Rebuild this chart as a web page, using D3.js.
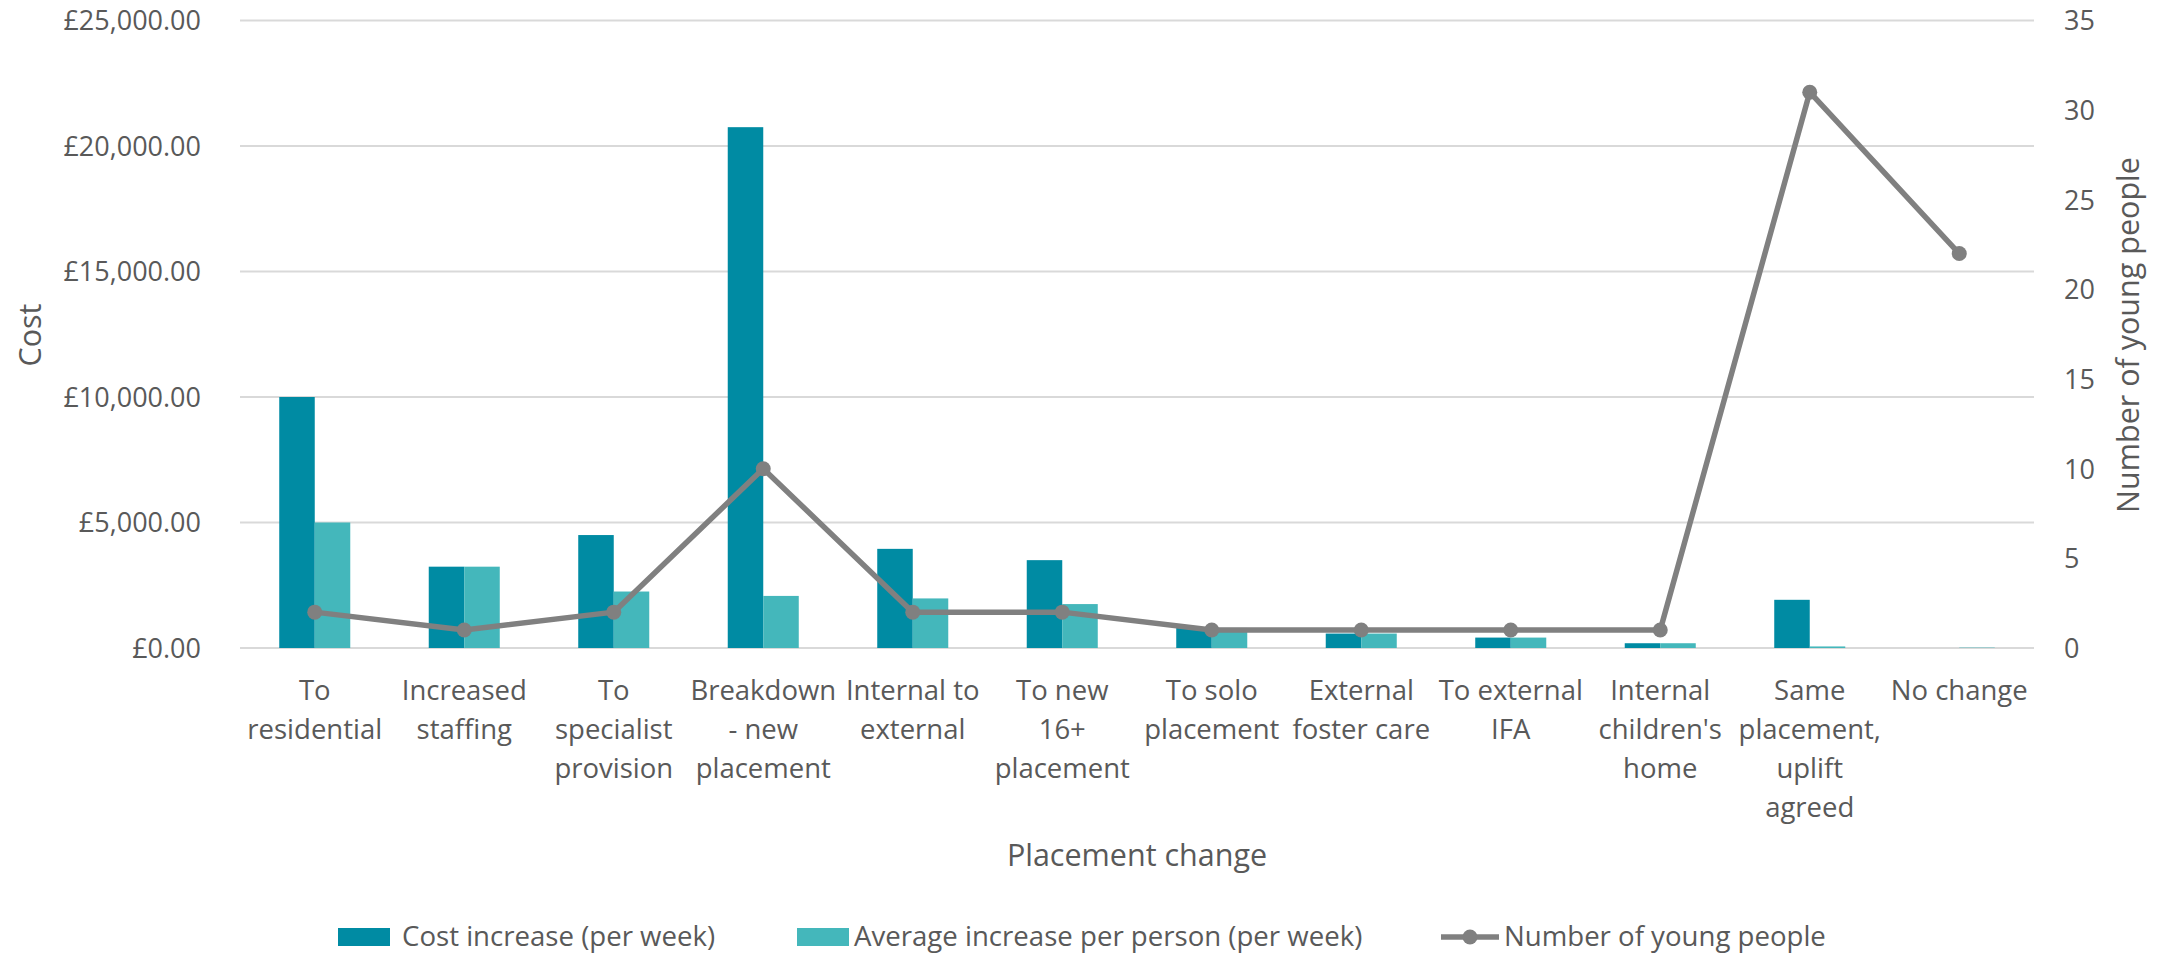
<!DOCTYPE html>
<html>
<head>
  <meta charset="utf-8">
  <script src="https://d3js.org/d3.v7.min.js"></script>
  <style>
  body { margin: 0; background: #fff; }
  text { font-family: "Open Sans", sans-serif; fill: #595959; }
  .grid line { stroke: #d9d9d9; stroke-width: 2px; }
  .axis path, .axis line { display: none; }
  .tick-label { font-size: 27px; }
  .cat-label { font-size: 27.5px; }
  .title { font-size: 30.5px; }
  .legend text { font-size: 27.6px; }
  </style>
</head>
<body>
<script>
// placement change categories ("\n" = line break in axis label)
var categories = [
  "To\nresidential",
  "Increased\nstaffing",
  "To\nspecialist\nprovision",
  "Breakdown\n- new\nplacement",
  "Internal to\nexternal",
  "To new\n16+\nplacement",
  "To solo\nplacement",
  "External\nfoster care",
  "To external\nIFA",
  "Internal\nchildren's\nhome",
  "Same\nplacement,\nuplift\nagreed",
  "No change"
];
var costIncrease = [10000, 3240, 4500, 20750, 3950, 3500, 800, 575, 415, 190, 1920, 0];
var avgIncrease  = [5000, 3240, 2250, 2075, 1975, 1750, 800, 575, 415, 190, 62, 15];
var youngPeople  = [2, 1, 2, 10, 2, 2, 1, 1, 1, 1, 31, 22];
var costTicks    = [0, 5000, 10000, 15000, 20000, 25000];
var peopleTicks  = [0, 5, 10, 15, 20, 25, 30, 35];
var seriesNames  = ["Cost increase (per week)", "Average increase per person (per week)", "Number of young people"];

var W = 2170, H = 953;
var plotL = 240, plotR = 2034, plotT = 20.5, plotB = 648;
var darkTeal = "#008ba3", lightTeal = "#44b7bb", grey = "#808080";

var svg = d3.select("body").append("svg")
  .attr("width", W)
  .attr("height", H);

var x = d3.scaleBand()
  .domain(d3.range(categories.length))
  .range([plotL, plotR])
  .paddingInner(0.525)
  .paddingOuter(0.2625);

var xSub = d3.scaleBand()
  .domain([0, 1])
  .range([0, x.bandwidth()]);

var yCost = d3.scaleLinear().domain([0, 25000]).range([plotB, plotT]);
var yPeople = d3.scaleLinear().domain([0, 35]).range([plotB, plotT]);

var money = d3.format(",.2f");

// gridlines
svg.append("g").attr("class", "grid")
  .selectAll("line")
  .data(costTicks)
  .enter().append("line")
    .attr("x1", plotL).attr("x2", plotR)
    .attr("y1", function(d) { return yCost(d); })
    .attr("y2", function(d) { return yCost(d); });

// left axis labels
svg.append("g").attr("class", "axis")
  .attr("transform", "translate(" + (plotL - 39) + ",0)")
  .call(d3.axisLeft(yCost).tickValues(costTicks).tickSize(0)
    .tickFormat(function(d) { return "£" + money(d); }))
  .selectAll("text").attr("class", "tick-label").attr("x", 0).attr("dy", "0.35em");

// right axis labels
svg.append("g").attr("class", "axis")
  .attr("transform", "translate(" + 2064 + ",0)")
  .call(d3.axisRight(yPeople).tickValues(peopleTicks).tickSize(0))
  .selectAll("text").attr("class", "tick-label").attr("x", 0).attr("dy", "0.35em");

// bars
var groups = svg.append("g")
  .selectAll("g")
  .data(categories)
  .enter().append("g")
    .attr("transform", function(d, i) { return "translate(" + x(i) + ",0)"; });

groups.append("rect")
  .attr("x", xSub(0))
  .attr("width", xSub.bandwidth())
  .attr("y", function(d, i) { return yCost(costIncrease[i]); })
  .attr("height", function(d, i) { return plotB - yCost(costIncrease[i]); })
  .attr("fill", darkTeal);

groups.append("rect")
  .attr("x", xSub(1))
  .attr("width", xSub.bandwidth())
  .attr("y", function(d, i) { return yCost(avgIncrease[i]); })
  .attr("height", function(d, i) { return plotB - yCost(avgIncrease[i]); })
  .attr("fill", lightTeal);

// line + markers
var cx = function(i) { return x(i) + x.bandwidth() / 2; };

svg.append("path")
  .datum(youngPeople)
  .attr("fill", "none")
  .attr("stroke", grey)
  .attr("stroke-width", 5.5)
  .attr("stroke-linejoin", "round")
  .attr("d", d3.line()
    .x(function(d, i) { return cx(i); })
    .y(function(d) { return yPeople(d); }));

svg.append("g")
  .selectAll("circle")
  .data(youngPeople)
  .enter().append("circle")
    .attr("cx", function(d, i) { return cx(i); })
    .attr("cy", function(d) { return yPeople(d); })
    .attr("r", 7.5)
    .attr("fill", grey);

// category labels
var catText = svg.append("g")
  .selectAll("text")
  .data(categories)
  .enter().append("text")
    .attr("class", "cat-label")
    .attr("text-anchor", "middle")
    .attr("x", function(d, i) { return cx(i); })
    .attr("y", 700);

catText.selectAll("tspan")
  .data(function(d) { return d.split("\n"); })
  .enter().append("tspan")
    .attr("x", function() { return this.parentNode.getAttribute("x"); })
    .attr("dy", function(d, j) { return j === 0 ? 0 : 39; })
    .text(function(d) { return d; });

// axis titles
svg.append("text").attr("class", "title")
  .attr("text-anchor", "middle")
  .attr("x", 1137).attr("y", 866)
  .text("Placement change");

svg.append("text").attr("class", "title")
  .attr("text-anchor", "middle")
  .attr("transform", "translate(41,335) rotate(-90)")
  .text("Cost");

svg.append("text").attr("class", "title")
  .attr("text-anchor", "middle")
  .attr("transform", "translate(2139,335) rotate(-90)")
  .text("Number of young people");

// legend
var legend = svg.append("g").attr("class", "legend");
var legendX = [338, 797, 1441];

legend.append("rect")
  .attr("x", legendX[0]).attr("y", 928).attr("width", 52).attr("height", 18)
  .attr("fill", darkTeal);
legend.append("rect")
  .attr("x", legendX[1]).attr("y", 928).attr("width", 52).attr("height", 18)
  .attr("fill", lightTeal);
legend.append("line")
  .attr("x1", legendX[2]).attr("x2", legendX[2] + 58)
  .attr("y1", 937).attr("y2", 937)
  .attr("stroke", grey).attr("stroke-width", 5.5);
legend.append("circle")
  .attr("cx", legendX[2] + 29).attr("cy", 937).attr("r", 7.5)
  .attr("fill", grey);

legend.selectAll("text")
  .data(seriesNames)
  .enter().append("text")
    .attr("x", function(d, i) { return legendX[i] + [64, 57, 63][i]; })
    .attr("y", 946)
    .text(function(d) { return d; });
</script>
</body>
</html>
